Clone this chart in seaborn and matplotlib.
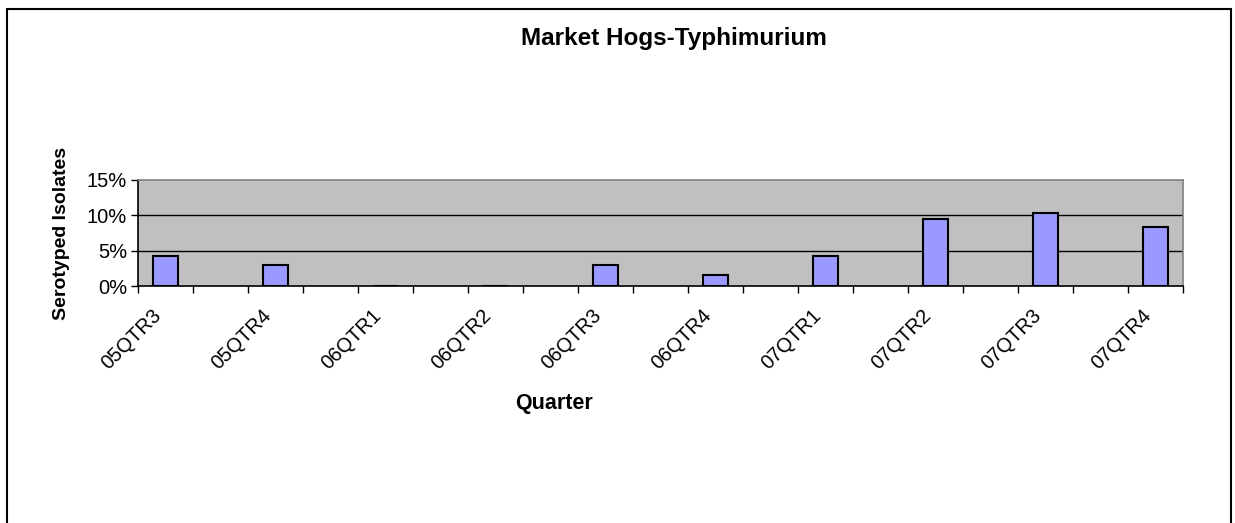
import numpy as np
import pandas as pd
import matplotlib.pyplot as plt
import seaborn as sns
from matplotlib.patches import Rectangle

# data
quarters = ["05QTR3", "05QTR4", "06QTR1", "06QTR2", "06QTR3",
            "06QTR4", "07QTR1", "07QTR2", "07QTR3", "07QTR4"]
pct = [4.3, 3.0, 0.0, 0.0, 3.0, 1.6, 4.3, 9.5, 10.3, 8.4]

# each quarter sits in every other slot (19 slots on the axis)
slot = [2 * i for i in range(len(quarters))]
df = pd.DataFrame({"slot": slot, "pct": pct, "quarter": quarters})

sns.set_style("white")
plt.rcParams["font.family"] = ["Liberation Sans", "DejaVu Sans"]
plt.rcParams["text.color"] = "black"
plt.rcParams["xtick.color"] = "black"
plt.rcParams["ytick.color"] = "black"

W, H = 1235, 523
fig = plt.figure(figsize=(W / 100, H / 100), dpi=100)
ax = fig.add_axes([138 / W, (H - 286) / H, 1045 / W, 106 / H])
ax.set_facecolor("#C0C0C0")

sns.barplot(data=df, x="slot", y="pct", native_scale=True, width=0.22,
            color="#9999FF", saturation=1, edgecolor="black", linewidth=1.5,
            ax=ax, zorder=3)

ax.set_xlim(-0.5, 18.5)
ax.set_ylim(0, 15)
ax.set_yticks([0, 5, 10, 15])
ax.set_yticklabels(["0%", "5%", "10%", "15%"], fontsize=14.5)
for y in [5, 10]:
    ax.axhline(y, color="black", lw=1, zorder=1)

# boundary ticks as marks; labels (no marks) nudged left of the bar centres
ax.set_xticks(np.arange(-0.5, 19, 1))
ax.set_xticklabels([])
ax.set_xticks([s - 0.25 for s in slot], minor=True)
ax.set_xticklabels(quarters, minor=True, rotation=45, ha="right",
                   rotation_mode="anchor", fontsize=14.5)
ax.tick_params(axis="x", which="major", direction="out", length=5, width=1, color="black", bottom=True)
ax.tick_params(axis="x", which="minor", length=0, pad=14)
ax.tick_params(axis="y", direction="out", length=5, width=1, color="black", left=True, pad=3)
ax.set_xlabel("")
ax.set_ylabel("")

for s in ["left", "bottom"]:
    ax.spines[s].set_color("black")
    ax.spines[s].set_linewidth(1.2)
for s in ["top", "right"]:
    ax.spines[s].set_color("#808080")
    ax.spines[s].set_linewidth(1.2)

fig.text(674 / W, 1 - 38 / H, "Market Hogs-Typhimurium", ha="center", va="center",
         fontsize=17.5, fontweight="bold")
fig.text(62 / W, 1 - 233 / H, "Serotyped Isolates", ha="center", va="center",
         rotation=90, fontsize=14, fontweight="bold")
fig.text(554 / W, 1 - 403 / H, "Quarter", ha="center", va="center",
         fontsize=15.5, fontweight="bold")

# chart frame (bottom edge lies outside the picture)
fig.patches.append(Rectangle((7 / W, -0.1), (1231 - 7) / W, 1.1 - 9 / H,
                             transform=fig.transFigure, fill=False,
                             edgecolor="black", lw=1.5))

fig.savefig("out.png", dpi=100)
